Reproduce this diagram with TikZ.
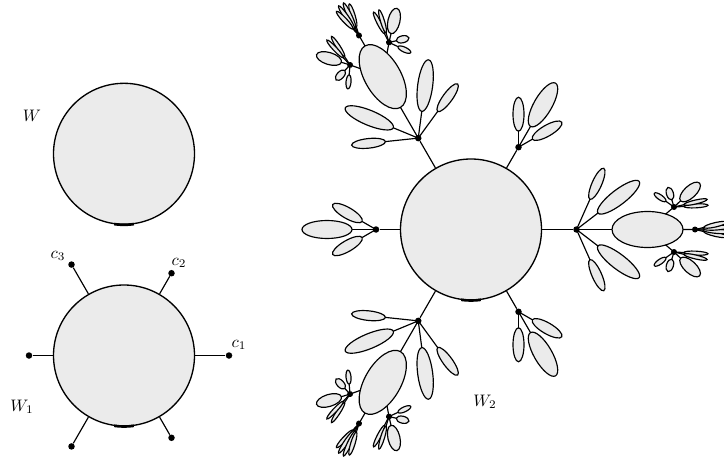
\documentclass[tikz,border=0pt]{standalone}
\usetikzlibrary{calc}
\pgfdeclarelayer{bg}
\pgfdeclarelayer{fg}
\pgfsetlayers{bg,main,fg}
\definecolor{fillg}{RGB}{235,235,235}
\tikzset{
  el/.style={draw=black, fill=fillg, line width=0.7pt},
  ln/.style={draw=black, line width=0.7pt},
  bigdisk/.style={circle, draw=black, fill=fillg, line width=0.8pt, minimum size=84.6pt, inner sep=0pt},
  dot/.style={circle, fill=black, minimum size=3.9pt, inner sep=0pt},
  rootseg/.style={line width=1.6pt, draw=black},
  lbl/.style={inner sep=0pt}
}
% leaf ellipse: angle, near distance, semi-major, semi-minor
\newcommand\lf[4]{%
  \begin{pgfonlayer}{bg}\draw[ln] (0,0) -- ({#1}:{#2+#3});\end{pgfonlayer}
  \draw[el, rotate={#1}] ({#2+#3},0) ellipse [x radius={#3}, y radius={#4}];
}
\newcommand\dt[1]{\begin{pgfonlayer}{fg}\fill #1 circle [radius=3];\end{pgfonlayer}}
\newcommand\smalltree{%
  \lf{0}{24}{25}{9}\lf{30}{16}{17}{5.5}\lf{-30}{16}{17}{5.5}}
\newcommand\sidefan[1]{%
  \lf{#1*43}{9}{13}{6}\lf{#1*107}{7.5}{6.5}{3.5}\lf{#1*145}{10}{7}{2.5}%
  \lf{#1*3}{10}{12}{2}\lf{#1*13}{10}{12}{2}\dt{(0,0)}}
\newcommand\farfan{%
  \lf{-13}{9}{12}{2.2}\lf{-4.5}{8}{14}{2.2}\lf{4.5}{8}{14}{2.2}\lf{13}{9}{12}{2.2}\dt{(0,0)}}
\newcommand\bigtree{%
  \lf{0}{35.5}{35.5}{18}\lf{37.5}{27}{26}{7.5}\lf{-37.5}{27}{26}{7.5}\lf{66}{33}{17}{4.8}\lf{-66}{33}{17}{4.8}%
  \begin{pgfonlayer}{bg}\draw[ln] (71,0) -- (118.5,0) (71,0) -- (97.5,22.5) (71,0) -- (97.5,-22.5);\end{pgfonlayer}%
  \begin{scope}[shift={(118.5,0)}]\farfan\end{scope}%
  \begin{scope}[shift={(97.5,22.5)}]\sidefan{1}\end{scope}%
  \begin{scope}[shift={(97.5,-22.5)}]\sidefan{-1}\end{scope}}
\begin{document}
\begin{tikzpicture}[x=0.6pt,y=0.6pt]
\useasboundingbox (0,0) rectangle (724,457);
% W
\node[bigdisk] (W) at (124,303.2) {};
\draw[rootseg] ([shift={(262:71)}]W.center) arc [start angle=262, end angle=278, radius=71];
\node[lbl] (lW) at (32,341) {$W$};
% W1
\node[bigdisk] (W1) at (124,101.5) {};
\draw[rootseg] ([shift={(262:71)}]W1.center) arc [start angle=262, end angle=278, radius=71];
\foreach \a/\l/\n in {0/105/c1, 60/95/c2, 120/105/c3, 180/95/d4, 240/105/d5, 300/95/d6}{
  \node[dot] (\n) at ([shift={(\a:\l)}]W1.center) {};
  \draw[ln] (W1) -- (\n);
}
\node[lbl] (lc1) at (239,112) {$c_1$};
\node[lbl] (lc2) at (179,194) {$c_2$};
\node[lbl] (lc3) at (58,201) {$c_3$};
\node[lbl] (lW1) at (22,50) {$W_1$};
% W2
\node[bigdisk] (W2) at (471,227.5) {};
\draw[rootseg] ([shift={(262:71)}]W2.center) arc [start angle=262, end angle=278, radius=71];
\node[lbl] (lW2) at (485,55) {$W_2$};
\foreach \a in {0,120,240}{
  \begin{pgfonlayer}{fg}\node[dot] (n\a) at ([shift={(\a:105.5)}]W2.center) {};\end{pgfonlayer}
  \draw[ln] (W2) -- (n\a);
  \begin{scope}[shift={(n\a.center)}, rotate=\a]\bigtree\end{scope}
}
\foreach \a in {60,180,300}{
  \begin{pgfonlayer}{fg}\node[dot] (n\a) at ([shift={(\a:95)}]W2.center) {};\end{pgfonlayer}
  \draw[ln] (W2) -- (n\a);
  \begin{scope}[shift={(n\a.center)}, rotate=\a]\smalltree\end{scope}
}
\end{tikzpicture}
\end{document}
